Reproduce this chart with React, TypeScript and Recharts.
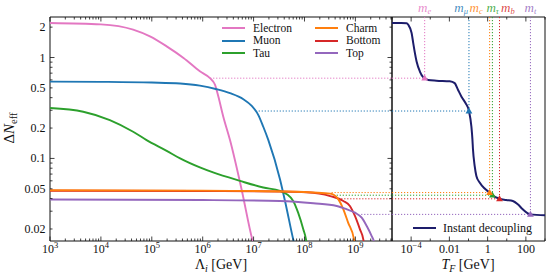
import React from 'react';
import { ComposedChart, Line, Scatter, XAxis, YAxis, ReferenceArea, ReferenceDot, Legend } from 'recharts';

const FONT = '"Liberation Serif", "DejaVu Serif", serif';
const INK = '#111';

// axis ranges
const LAMBDA_MIN = 1e3;
const LAMBDA_MAX = 5.24e9;
const TF_MIN = 1e-5;
const TF_MAX = 1e3;
const DN_MIN = 0.0152;
const DN_MAX = 2.52;

// species, in legend order
const species = ['Electron', 'Muon', 'Tau', 'Charm', 'Bottom', 'Top'];
const speciesColors = ['#e377c2', '#1f77b4', '#2ca02c', '#ff7f0e', '#d62728', '#9467bd'];
const massSymbols = ['e', 'μ', 'τ', 'c', 'b', 't'];
const masses = [5.11e-4, 0.1057, 1.777, 1.27, 4.18, 173]; // GeV
const plateauDN = [0.624, 0.295, 0.0432, 0.0459, 0.0398, 0.0279];
const plateauStart = [1.4e6, 1.26e7, 4.3e8, 3.4e8, 4.6e8, 1.3e9]; // where the dotted guide starts (left panel)

// left panel: ΔN_eff vs Λ_i
const electronLambda = [1e3, 1e4, 4.3e4, 9.2e4, 1.96e5, 4.2e5, 8.8e5, 1.39e6, 1.75e6, 2.03e6, 2.54e6, 3.44e6, 5.8e6, 9.4e6, 1.15e7];
const electronDN = [2.2, 2.13, 1.89, 1.62, 1.29, 0.99, 0.73, 0.624, 0.535, 0.41, 0.259, 0.152, 0.0495, 0.0158, 0.011];

const muonLambda = [1e3, 1e4, 1e5, 3.6e5, 8.8e5, 1.88e6, 3.44e6, 6.3e6, 9.2e6, 1.24e7, 1.55e7, 1.95e7, 3.3e7, 4.35e7, 6.0e7, 7.2e7];
const muonDN = [0.577, 0.574, 0.565, 0.553, 0.527, 0.485, 0.443, 0.386, 0.331, 0.269, 0.206, 0.152, 0.0622, 0.0338, 0.0158, 0.011];

const tauLambda = [1e3, 4.5e3, 1.5e4, 4.3e4, 7.9e4, 1.96e5, 3.6e5, 8.8e5, 1.6e6, 5.4e6, 1.55e7, 3.3e7, 4.5e7, 6.0e7, 7.5e7, 9.5e7, 1.07e8, 1.17e8];
const tauDN = [0.316, 0.29, 0.24, 0.184, 0.152, 0.119, 0.1, 0.0814, 0.0726, 0.0599, 0.0515, 0.0476, 0.0442, 0.0379, 0.029, 0.0198, 0.0158, 0.011];

const charmLambda = [1e3, 1e6, 7e7, 1.5e8, 3.2e8, 4.6e8, 5.8e8, 7.2e8, 9.4e8, 1.03e9];
const charmDN = [0.0484, 0.048, 0.0468, 0.046, 0.0448, 0.0395, 0.0313, 0.0231, 0.0158, 0.011];

const bottomLambda = [1e3, 1e6, 3e7, 1.1e8, 3.2e8, 5.8e8, 7.8e8, 9.8e8, 1.23e9, 1.43e9, 1.56e9];
const bottomDN = [0.0478, 0.0476, 0.047, 0.0462, 0.0424, 0.0379, 0.0338, 0.0269, 0.0198, 0.0158, 0.011];

const topLambda = [1e3, 1e6, 3.3e7, 1.5e8, 4.3e8, 6.8e8, 9.8e8, 1.33e9, 1.67e9, 2.09e9, 2.32e9, 2.55e9];
const topDN = [0.0392, 0.0387, 0.0379, 0.036, 0.0338, 0.0313, 0.029, 0.0259, 0.0214, 0.017, 0.015, 0.011];

// right panel: instant decoupling, ΔN_eff vs T_F
const tfT = [1e-5, 3e-5, 5.8e-5, 7.1e-5, 1.06e-4, 1.29e-4, 1.58e-4, 1.93e-4, 2.87e-4, 4.27e-4, 5.11e-4, 7.8e-4, 2.1e-3, 1.05e-2, 1.9e-2, 2.85e-2, 4.3e-2, 7.1e-2, 0.1057, 0.142, 0.16, 0.171, 0.21, 0.258, 0.383, 0.7, 1.27, 1.777, 4.18, 9.4, 20.8, 37.8, 69, 126, 173, 1000];
const tfDN = [2.2, 2.2, 2.19, 2.11, 1.75, 1.39, 1.106, 0.912, 0.726, 0.639, 0.624, 0.6, 0.59, 0.582, 0.557, 0.477, 0.409, 0.352, 0.295, 0.206, 0.1555, 0.124, 0.0844, 0.0671, 0.0577, 0.0503, 0.0459, 0.0432, 0.0398, 0.0388, 0.0379, 0.0351, 0.0313, 0.0286, 0.0279, 0.0273];

// ticks
const leftXMajor = [1e3, 1e4, 1e5, 1e6, 1e7, 1e8, 1e9];
const leftXLabels = ['10^3', '10^4', '10^5', '10^6', '10^7', '10^8', '10^9'];
const rightXMajor = [1e-4, 1e-2, 1, 100];
const rightXLabels = ['10^−4', '0.01', '1', '100'];
const rightXMinor = [1e-5, 1e-3, 0.1, 10, 1000];
const yTicks = [0.02, 0.03, 0.04, 0.05, 0.06, 0.07, 0.08, 0.09, 0.1, 0.2, 0.3, 0.4, 0.5, 0.6, 0.7, 0.8, 0.9, 1, 2];
const yLabelValues = [0.02, 0.05, 0.1, 0.2, 0.5, 1, 2];
const yLabels = ['0.02', '0.05', '0.1', '0.2', '0.5', '1', '2'];
const yLong = [0.1, 1];

const leftXTicks: number[] = [];
leftXMajor.forEach((d) => {
  for (let k = 1; k <= 9; k++) if (k * d <= LAMBDA_MAX) leftXTicks.push(k === 1 ? d : k * d);
});
const rightXTicks = [...rightXMinor, ...rightXMajor].sort((a, b) => a - b);

const zip = (xs: number[], ys: number[]) => xs.map((x, i) => ({ x, y: ys[i] }));
const curveData = [
  zip(electronLambda, electronDN),
  zip(muonLambda, muonDN),
  zip(tauLambda, tauDN),
  zip(charmLambda, charmDN),
  zip(bottomLambda, bottomDN),
  zip(topLambda, topDN),
];
const drawOrder = [0, 1, 2, 4, 3, 5];

const TOP = 17;
const LEFT_RIGHT_EDGE = 392;
const RIGHT_RIGHT_EDGE = 161;

// label placement of the m_x names above the right panel
const massLabelPos = [
  { anchor: 'middle', dx: 0 },
  { anchor: 'end', dx: -1 },
  { anchor: 'start', dx: -6 },
  { anchor: 'start', dx: -20 },
  { anchor: 'start', dx: 1.5 },
  { anchor: 'middle', dx: 0 },
];

function TickText({ x, y, text }: { x: number; y: number; text: string }) {
  const [base, exp] = text.split('^');
  return (
    <text x={x} y={y} textAnchor="middle" fontFamily={FONT} fontSize={12} fill={INK}>
      {base}
      {exp && (
        <tspan dy={-5} fontSize={8.5}>
          {exp}
        </tspan>
      )}
    </text>
  );
}

function XTick(props: any) {
  const { x, y, payload, majors, labels } = props;
  const i = majors.indexOf(payload.value);
  const len = i >= 0 ? 4.5 : 2.5;
  return (
    <g>
      <line x1={x} x2={x} y1={y} y2={y - len} stroke={INK} strokeWidth={0.8} />
      <line x1={x} x2={x} y1={TOP} y2={TOP + len} stroke={INK} strokeWidth={0.8} />
      {i >= 0 && <TickText x={x} y={y + 12} text={labels[i]} />}
    </g>
  );
}

function YTick(props: any) {
  const { x, y, payload, edge, showLabels } = props;
  const v = payload.value;
  const len = yLong.includes(v) ? 4.5 : 2.5;
  const li = yLabelValues.indexOf(v);
  return (
    <g>
      <line x1={x} x2={x + len} y1={y} y2={y} stroke={INK} strokeWidth={0.8} />
      <line x1={edge} x2={edge - len} y1={y} y2={y} stroke={INK} strokeWidth={0.8} />
      {showLabels && li >= 0 && (
        <text x={x - 4.5} y={y + 4} textAnchor="end" fontFamily={FONT} fontSize={12} fill={INK}>
          {yLabels[li]}
        </text>
      )}
    </g>
  );
}

const LeftLegend = () => (
  <div
    style={{
      display: 'grid',
      gridTemplateColumns: '93px 70px',
      gridTemplateRows: 'repeat(3, 12.4px)',
      gridAutoFlow: 'column',
      fontFamily: FONT,
      fontSize: 11.5,
      lineHeight: '12.4px',
      color: INK,
    }}
  >
    {species.map((s, i) => (
      <div key={s} style={{ display: 'flex', alignItems: 'center', height: 12.4, whiteSpace: 'nowrap' }}>
        <span style={{ display: 'inline-block', width: 23, height: 2, background: speciesColors[i], marginRight: 8 }} />
        <span>{s}</span>
      </div>
    ))}
  </div>
);

const RightLegend = () => (
  <div style={{ display: 'flex', alignItems: 'center', height: 12, fontFamily: FONT, fontSize: 12, color: INK, whiteSpace: 'nowrap' }}>
    <span style={{ display: 'inline-block', width: 23, height: 2, background: '#1d1d6b', marginRight: 7 }} />
    <span>Instant decoupling</span>
  </div>
);

export default function App() {
  return (
    <div style={{ position: 'absolute', left: 0, top: 0, width: 552, height: 279, background: '#fff' }}>
      <div style={{ position: 'absolute', left: 0, top: 0 }}>
        <ComposedChart width={400} height={279} margin={{ top: TOP, right: 8, bottom: 0, left: 0 }}>
          <XAxis
            dataKey="x"
            type="number"
            scale="log"
            domain={[LAMBDA_MIN, LAMBDA_MAX]}
            allowDataOverflow
            ticks={leftXTicks}
            interval={0}
            height={38}
            tickLine={false}
            axisLine={false}
            tickSize={0}
            tickMargin={0}
            tick={(p: any) => <XTick {...p} majors={leftXMajor} labels={leftXLabels} />}
            label={{
              content: () => (
                <text x={221} y={269} textAnchor="middle" fontFamily={FONT} fontSize={14} fill={INK}>
                  Λ
                  <tspan dy={3} fontSize={10} fontStyle="italic">i</tspan>
                  <tspan dy={-3} fontSize={14}> [GeV]</tspan>
                </text>
              ),
            }}
          />
          <YAxis
            dataKey="y"
            type="number"
            scale="log"
            domain={[DN_MIN, DN_MAX]}
            allowDataOverflow
            ticks={yTicks}
            interval={0}
            width={50}
            tickLine={false}
            axisLine={false}
            tickSize={0}
            tickMargin={0}
            tick={(p: any) => <YTick {...p} edge={LEFT_RIGHT_EDGE} showLabels />}
            label={{
              content: () => (
                <text x={14} y={128} transform="rotate(-90 14 128)" textAnchor="middle" fontFamily={FONT} fontSize={15} fill={INK}>
                  Δ<tspan fontStyle="italic">N</tspan>
                  <tspan dy={3} fontSize={10.5}>eff</tspan>
                </text>
              ),
            }}
          />
          <ReferenceArea x1={LAMBDA_MIN} x2={LAMBDA_MAX} y1={DN_MIN} y2={DN_MAX} fill="none" stroke={INK} strokeWidth={1} />
          {species.map((s, i) => (
            <Line
              key={'guide-' + s}
              data={[
                { x: plateauStart[i], y: plateauDN[i] },
                { x: LAMBDA_MAX, y: plateauDN[i] },
              ]}
              dataKey="y"
              type="linear"
              stroke={speciesColors[i]}
              strokeWidth={1}
              strokeDasharray="1.2 1.8"
              dot={false}
              activeDot={false}
              legendType="none"
              isAnimationActive={false}
            />
          ))}
          {drawOrder.map((i) => (
            <Line
              key={species[i]}
              name={species[i]}
              data={curveData[i]}
              dataKey="y"
              type="monotone"
              stroke={speciesColors[i]}
              strokeWidth={1.9}
              dot={false}
              activeDot={false}
              isAnimationActive={false}
            />
          ))}
          <Legend
            layout="vertical"
            align="center"
            verticalAlign="middle"
            content={() => <LeftLegend />}
            wrapperStyle={{ left: 222, top: 22, width: 170 }}
          />
        </ComposedChart>
      </div>

      <div style={{ position: 'absolute', left: 384, top: 0 }}>
        <ComposedChart width={168} height={279} margin={{ top: TOP, right: 7, bottom: 0, left: 8 }}>
          <XAxis
            dataKey="x"
            type="number"
            scale="log"
            domain={[TF_MIN, TF_MAX]}
            allowDataOverflow
            ticks={rightXTicks}
            interval={0}
            height={38}
            tickLine={false}
            axisLine={false}
            tickSize={0}
            tickMargin={0}
            tick={(p: any) => <XTick {...p} majors={rightXMajor} labels={rightXLabels} />}
            label={{
              content: () => (
                <text x={84} y={269} textAnchor="middle" fontFamily={FONT} fontSize={14} fill={INK}>
                  <tspan fontStyle="italic">T</tspan>
                  <tspan dy={3} fontSize={10} fontStyle="italic">F</tspan>
                  <tspan dy={-3} fontSize={14}> [GeV]</tspan>
                </text>
              ),
            }}
          />
          <YAxis
            dataKey="y"
            type="number"
            scale="log"
            domain={[DN_MIN, DN_MAX]}
            allowDataOverflow
            ticks={yTicks}
            interval={0}
            width={0}
            tickLine={false}
            axisLine={false}
            tickSize={0}
            tickMargin={0}
            tick={(p: any) => <YTick {...p} edge={RIGHT_RIGHT_EDGE} showLabels={false} />}
          />
          <ReferenceArea x1={TF_MIN} x2={TF_MAX} y1={DN_MIN} y2={DN_MAX} fill="none" stroke={INK} strokeWidth={1} />
          {species.map((s, i) => (
            <Line
              key={'h-' + s}
              data={[
                { x: TF_MIN, y: plateauDN[i] },
                { x: masses[i], y: plateauDN[i] },
              ]}
              dataKey="y"
              type="linear"
              stroke={speciesColors[i]}
              strokeWidth={1}
              strokeDasharray="1.2 1.8"
              dot={false}
              activeDot={false}
              legendType="none"
              isAnimationActive={false}
            />
          ))}
          {species.map((s, i) => (
            <Line
              key={'v-' + s}
              data={[
                { x: masses[i], y: DN_MAX },
                { x: masses[i], y: plateauDN[i] },
              ]}
              dataKey="y"
              type="linear"
              stroke={speciesColors[i]}
              strokeWidth={1}
              strokeDasharray="1.2 1.8"
              dot={false}
              activeDot={false}
              legendType="none"
              isAnimationActive={false}
            />
          ))}
          <Line
            name="Instant decoupling"
            data={zip(tfT, tfDN)}
            dataKey="y"
            type="monotone"
            stroke="#1d1d6b"
            strokeWidth={2}
            dot={false}
            activeDot={false}
            isAnimationActive={false}
          />
          {species.map((s, i) => (
            <Scatter
              key={'m-' + s}
              data={[{ x: masses[i], y: plateauDN[i] }]}
              dataKey="y"
              fill={speciesColors[i]}
              isAnimationActive={false}
              shape={(p: any) => (
                <polygon
                  points={`${p.cx},${p.cy - 3.6} ${p.cx - 3.4},${p.cy + 2.4} ${p.cx + 3.4},${p.cy + 2.4}`}
                  fill={speciesColors[i]}
                />
              )}
            />
          ))}
          {species.map((s, i) => (
            <ReferenceDot
              key={'lbl-' + s}
              x={masses[i]}
              y={DN_MAX}
              r={1}
              fill="none"
              stroke="none"
              label={{
                content: (p: any) => {
                  const vb = p.viewBox || {};
                  const cx = (vb.x ?? 0) + (vb.width ?? 0) / 2;
                  return (
                    <text
                      x={cx + massLabelPos[i].dx}
                      y={12}
                      textAnchor={massLabelPos[i].anchor as any}
                      fontFamily={FONT}
                      fontSize={13}
                      fontStyle="italic"
                      fill={speciesColors[i]}
                      fillOpacity={0.85}
                    >
                      m
                      <tspan dy={2} fontSize={8.5}>{massSymbols[i]}</tspan>
                    </text>
                  );
                },
              }}
            />
          ))}
          <Legend
            layout="vertical"
            align="center"
            verticalAlign="middle"
            content={() => <RightLegend />}
            wrapperStyle={{ left: 29, top: 222, width: 125 }}
          />
        </ComposedChart>
      </div>
    </div>
  );
}
